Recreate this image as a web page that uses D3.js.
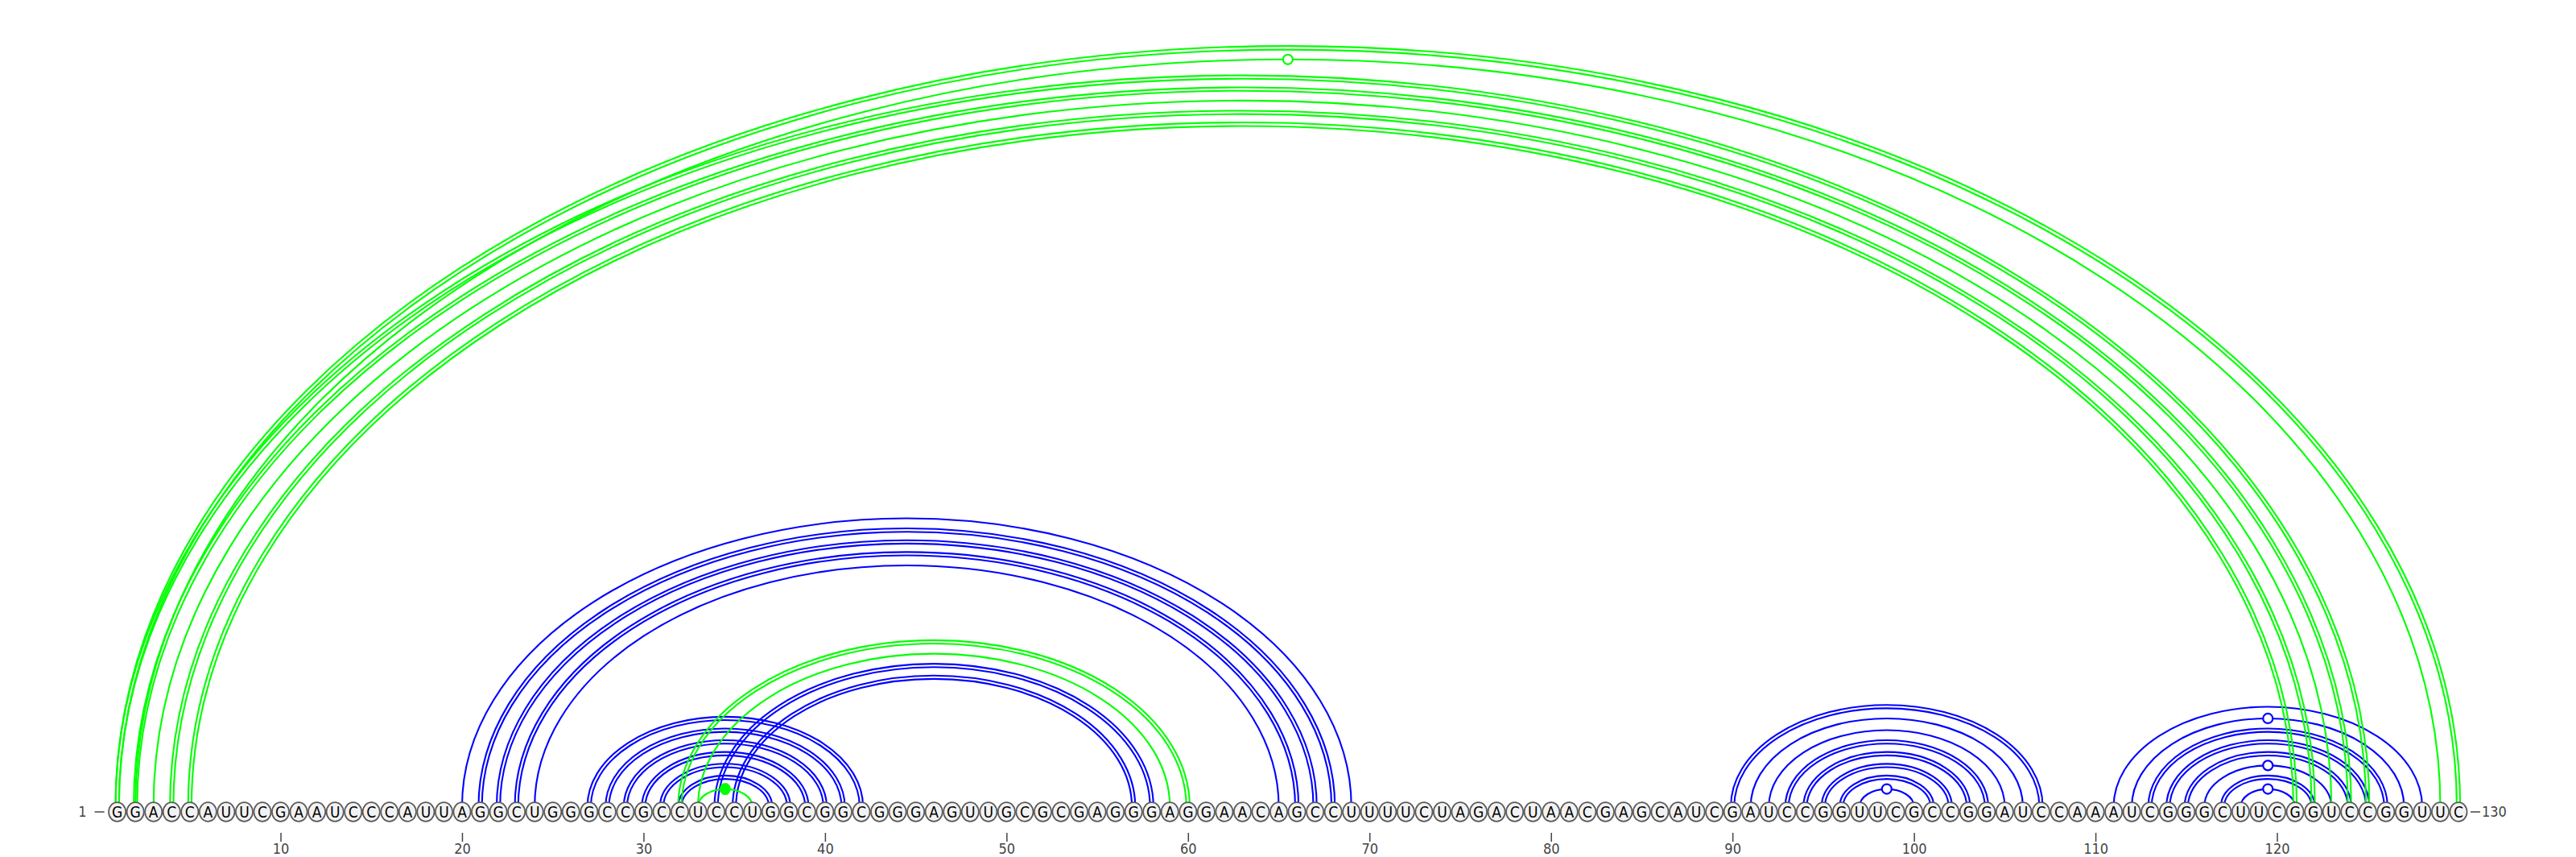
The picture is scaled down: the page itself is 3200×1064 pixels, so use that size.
<!DOCTYPE html>
<html>
<head>
<meta charset="utf-8">
<script src="https://cdn.jsdelivr.net/npm/d3@7"></script>
<style>
  body { margin: 0; background: #fff; }
  .nt text { font-family: "Liberation Sans Narrow", "DejaVu Sans Condensed", "Liberation Sans", sans-serif; }
  .ends text, .axis text { font-family: "DejaVu Sans Condensed", "DejaVu Sans", sans-serif; }
</style>
</head>
<body>
<div id="arcs"></div>
<script>

var sequence = "GGACCAUUCGAAUCCCAUUAGGCUGGGCCGCCUCCUGGCGGCGGGAGUUGCGCGAGGGAGGAACAGCCUUUUCUAGACUAACGAGCAUCGAUCCGGUUCGCCGGAUCCAAAUCGGGCUUCGGUCCGGUUC";

// blue structure
var bluePairs = [
  [20, 69], [21, 68], [22, 67], [23, 66], [24, 65],
  [27, 42], [28, 41], [29, 40], [30, 39], [31, 38], [32, 37],
  [34, 58], [35, 57],
  [90, 107], [91, 106], [92, 105], [93, 104], [94, 103], [95, 102], [96, 101], [97, 100],
  [111, 128], [112, 127], [113, 126], [114, 125], [115, 124], [116, 123], [117, 122], [118, 121]
];

// green structure
var greenPairs = [
  [1, 130], [2, 129], [1, 125], [2, 124], [3, 123], [4, 122], [5, 121],
  [32, 60], [33, 59], [33, 36]
];

var tickValues = [10, 20, 30, 40, 50, 60, 70, 80, 90, 100, 110, 120];

var width = 3200, height = 1064;
var baseY = 1008;      // centre of the nucleotide row
var arcBase = 1001.5;  // arcs start just under the circles
var flat = 0.648;      // arc height / half span

var bases = sequence.split("");

var x = d3.scaleLinear()
  .domain([1, bases.length])
  .range([145.6, 3054]);

var svg = d3.select("#arcs").append("svg")
  .attr("width", width)
  .attr("height", height)
  .style("display", "block");

function pairType(p) {
  var s = bases[p[0] - 1] + bases[p[1] - 1];
  if (s == "GC" || s == "CG") return "double";
  if (s == "AU" || s == "UA") return "single";
  if (s == "GU" || s == "UG") return "wobble";
  return "other";
}

function arcPath(p, off) {
  var x1 = x(p[0]) - off, x2 = x(p[1]) + off;
  var rx = (x(p[1]) - x(p[0])) / 2;
  var ry = flat * rx + off;
  return "M" + x1 + "," + arcBase + " A" + (rx + off) + "," + ry + " 0 0 1 " + x2 + "," + arcBase;
}

function drawPairs(pairs, color, cls) {
  var g = svg.append("g").attr("class", cls);

  pairs.forEach(function(p) {
    var t = pairType(p);
    var offsets = (t == "double") ? [2.1, -2.1] : [0];
    offsets.forEach(function(o) {
      g.append("path")
        .attr("d", arcPath(p, o))
        .attr("fill", "none")
        .attr("stroke", color)
        .attr("stroke-width", 2.1);
    });

    var xm = (x(p[0]) + x(p[1])) / 2;
    var ym = arcBase - flat * (x(p[1]) - x(p[0])) / 2;
    if (t == "wobble") {
      g.append("circle")
        .attr("cx", xm).attr("cy", ym).attr("r", 6)
        .attr("fill", "#fff")
        .attr("stroke", color)
        .attr("stroke-width", 2.2);
    } else if (t == "other") {
      g.append("ellipse")
        .attr("cx", xm).attr("cy", ym).attr("rx", 6.8).attr("ry", 7.5)
        .attr("fill", color);
    }
  });
}

drawPairs(bluePairs, "#0000ff", "blue");
drawPairs(greenPairs, "#00ff00", "green");

// nucleotides
var nt = svg.append("g").attr("class", "nt")
  .selectAll("g")
  .data(bases)
  .enter().append("g")
  .attr("transform", function(d, i) { return "translate(" + x(i + 1) + "," + baseY + ")"; });

nt.append("ellipse")
  .attr("rx", 10.6)
  .attr("ry", 11.8)
  .attr("fill", "#f2f2f2")
  .attr("stroke", "#5a5a5a")
  .attr("stroke-width", 1.7);

nt.append("text")
  .attr("text-anchor", "middle")
  .attr("dy", "0.36em")
  .style("font-size", "19px")
  .style("fill", "#000")
  .text(function(d) { return d; });

// numbering
var xAxis = d3.axisBottom(x)
  .tickValues(tickValues)
  .tickSize(11)
  .tickPadding(2);

var ax = svg.append("g")
  .attr("class", "axis")
  .attr("transform", "translate(0," + 1034 + ")")
  .call(xAxis);

ax.select(".domain").remove();
ax.selectAll(".tick line").attr("stroke", "#444").attr("stroke-width", 1.5);
ax.selectAll(".tick text").style("font-size", "18px").attr("fill", "#444");

var ends = svg.append("g").attr("class", "ends");

ends.append("text")
  .attr("x", x(1) - 38)
  .attr("y", baseY)
  .attr("dy", "0.36em")
  .attr("text-anchor", "end")
  .style("font-size", "18px")
  .attr("fill", "#444")
  .text("1");

ends.append("line")
  .attr("x1", x(1) - 28).attr("x2", x(1) - 16)
  .attr("y1", baseY).attr("y2", baseY)
  .attr("stroke", "#444").attr("stroke-width", 1.5);

ends.append("line")
  .attr("x1", x(bases.length) + 15).attr("x2", x(bases.length) + 27)
  .attr("y1", baseY).attr("y2", baseY)
  .attr("stroke", "#444").attr("stroke-width", 1.5);

ends.append("text")
  .attr("x", x(bases.length) + 29)
  .attr("y", baseY)
  .attr("dy", "0.36em")
  .attr("text-anchor", "start")
  .style("font-size", "18px")
  .attr("fill", "#444")
  .text(bases.length);

</script>
</body>
</html>
